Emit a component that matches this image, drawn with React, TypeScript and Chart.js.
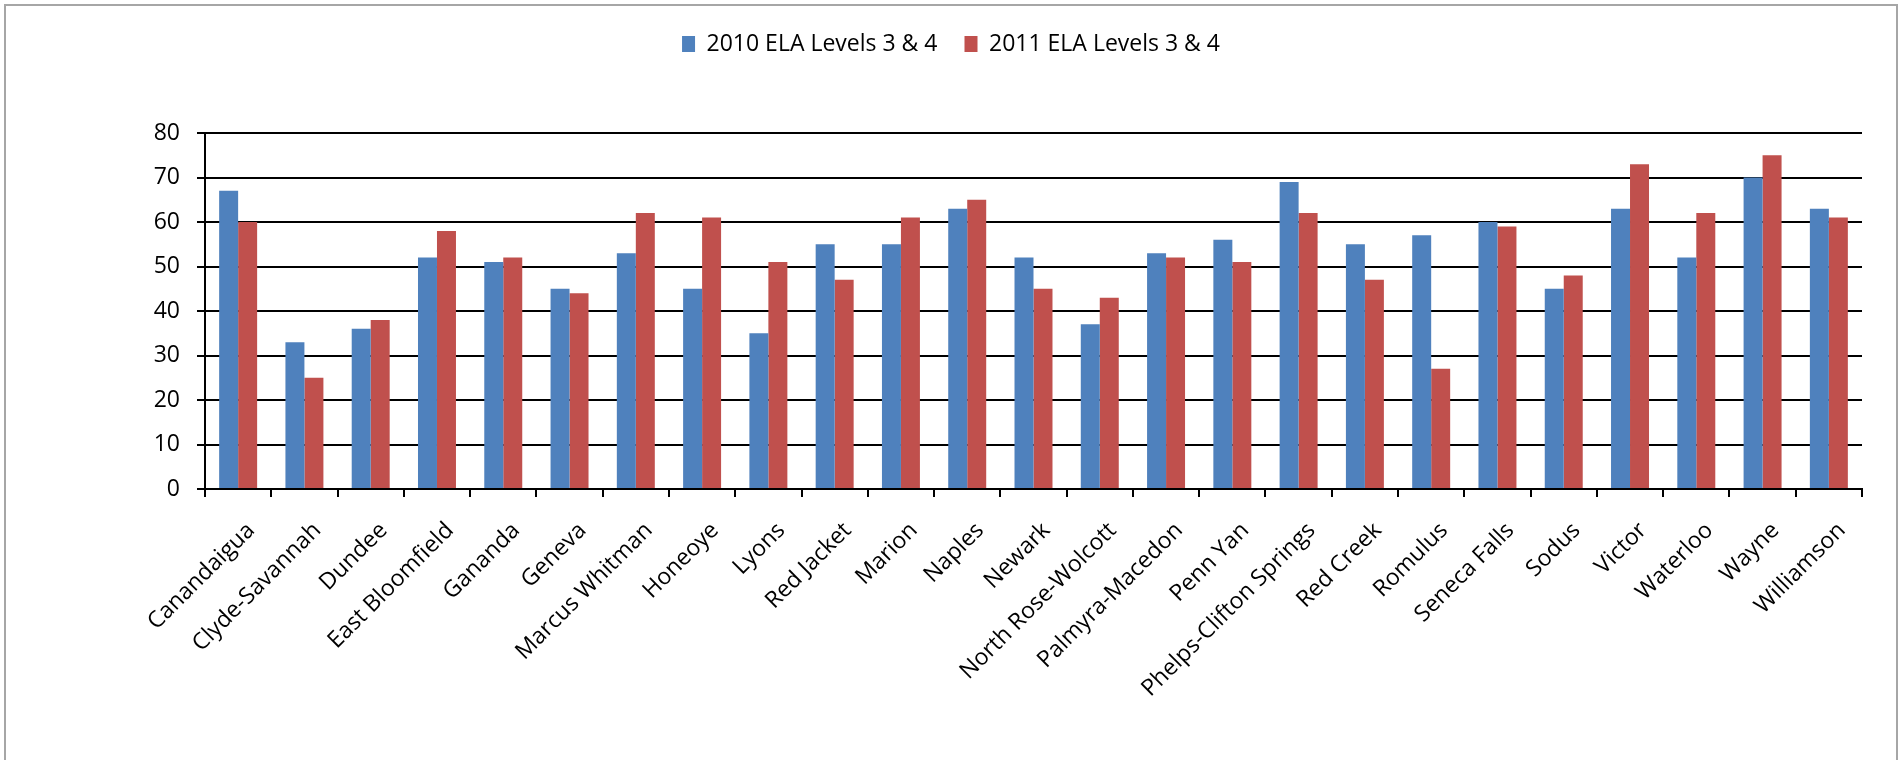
import React, { useEffect, useRef } from "react";
import { Chart, registerables } from "chart.js";

Chart.register(...registerables);

const categories = [
  "Canandaigua", "Clyde-Savannah", "Dundee", "East Bloomfield", "Gananda",
  "Geneva", "Marcus Whitman", "Honeoye", "Lyons", "Red Jacket", "Marion",
  "Naples", "Newark", "North Rose-Wolcott", "Palmyra-Macedon", "Penn Yan",
  "Phelps-Clifton Springs", "Red Creek", "Romulus", "Seneca Falls", "Sodus",
  "Victor", "Waterloo", "Wayne", "Williamson",
];

const ela2010 = [67, 33, 36, 52, 51, 45, 53, 45, 35, 55, 55, 63, 52, 37, 53, 56, 69, 55, 57, 60, 45, 63, 52, 70, 63];
const ela2011 = [60, 25, 38, 58, 52, 44, 62, 61, 51, 47, 61, 65, 45, 43, 52, 51, 62, 47, 27, 59, 48, 73, 62, 75, 61];

const seriesLabels = ["2010 ELA Levels 3 & 4", "2011 ELA Levels 3 & 4"];
const seriesColors = ["#4F81BD", "#C0504D"];

const yMin = 0;
const yMax = 80;
const yStep = 10;

const FONT_FAMILY = "'Open Sans', 'Noto Sans', sans-serif";
const FONT_SIZE = 23;
const LEGEND_EXTRA = 67.5;

export default function App() {
  const canvasRef = useRef<HTMLCanvasElement | null>(null);

  useEffect(() => {
    const canvas = canvasRef.current;
    if (!canvas) return;

    const legendSpacer = {
      id: "legendSpacer",
      beforeLayout(chart: any) {
        const lg = chart.legend;
        if (lg && !lg.__patched) {
          const orig = lg.fit.bind(lg);
          lg.fit = () => {
            orig();
            lg.height += LEGEND_EXTRA;
          };
          lg.__patched = true;
        }
      },
    };

    const chart = new Chart(canvas, {
      type: "bar",
      data: {
        labels: categories,
        datasets: [
          {
            label: seriesLabels[0],
            data: ela2010,
            backgroundColor: seriesColors[0],
            borderWidth: 0,
            categoryPercentage: 0.573,
            barPercentage: 1,
          },
          {
            label: seriesLabels[1],
            data: ela2011,
            backgroundColor: seriesColors[1],
            borderWidth: 0,
            categoryPercentage: 0.573,
            barPercentage: 1,
          },
        ],
      },
      options: {
        responsive: false,
        animation: false,
        devicePixelRatio: 1,
        layout: { padding: { left: 40, right: 40, top: 5.5, bottom: 0 } },
        plugins: {
          legend: {
            position: "top",
            align: "center",
            labels: {
              color: "#000",
              font: { family: FONT_FAMILY, size: FONT_SIZE },
              boxWidth: 13,
              boxHeight: 16,
              padding: 27,
            },
          },
          tooltip: { enabled: false },
        },
        scales: {
          x: {
            offset: true,
            grid: {
              offset: true,
              drawOnChartArea: false,
              drawTicks: true,
              tickLength: 8,
              color: "#000",
              lineWidth: 2,
            },
            border: { color: "#000", width: 2 },
            ticks: {
              color: "#000",
              font: { family: FONT_FAMILY, size: FONT_SIZE },
              maxRotation: 45,
              minRotation: 45,
              autoSkip: false,
              padding: 20,
              labelOffset: 13,
            },
            afterFit: (s: any) => {
              s.height = 271;
            },
          },
          y: {
            min: yMin,
            max: yMax,
            ticks: {
              stepSize: yStep,
              color: "#000",
              font: { family: FONT_FAMILY, size: FONT_SIZE },
              padding: 17,
            },
            grid: { color: "#000", lineWidth: 2, tickLength: 8 },
            border: { color: "#000", width: 2 },
            afterFit: (s: any) => {
              s.width = 165;
            },
          },
        },
      },
      plugins: [legendSpacer],
    });

    return () => {
      chart.destroy();
    };
  }, []);

  return (
    <div
      style={{
        position: "fixed",
        left: 0,
        top: 0,
        width: 1902,
        height: 760,
        overflow: "hidden",
        background: "#fff",
      }}
    >
      <canvas
        ref={canvasRef}
        width={1902}
        height={760}
        style={{ position: "absolute", left: 0, top: 0, width: 1902, height: 760 }}
      />
      <div
        style={{
          position: "absolute",
          left: 4,
          top: 4,
          width: 1890,
          height: 900,
          border: "2px solid #a6a6a6",
          pointerEvents: "none",
        }}
      />
    </div>
  );
}
